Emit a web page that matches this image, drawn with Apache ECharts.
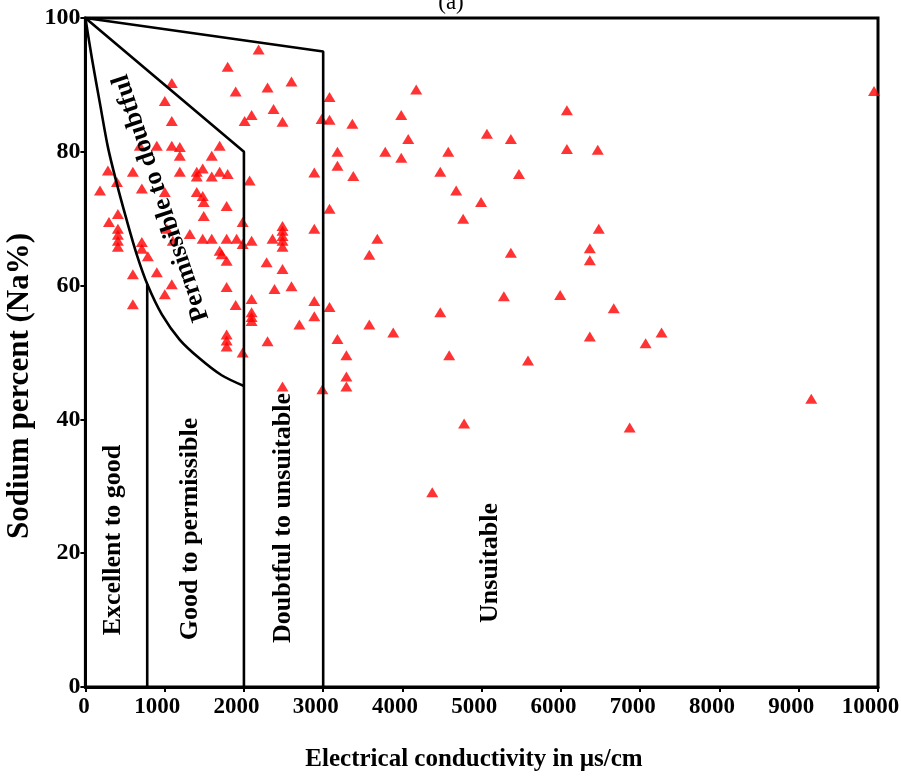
<!DOCTYPE html>
<html><head><meta charset="utf-8">
<script src="https://cdn.jsdelivr.net/npm/echarts@6/dist/echarts.min.js"></script>
<style>html,body{margin:0;padding:0;background:#fff}#c{width:901px;height:778px}</style>
</head><body><div id="c"></div>
<script>
// Sample values: electrical conductivity (µS/cm) and sodium percent (Na%)
const ecValues = [
  2185,1795,1896,2298,2600,2374,2097,2009,2487,1090,1002,1090,687,901,1090,1191,1191,1594,1694,
  284,599,1191,1405,1405,1480,1594,1694,1795,2072,398,184,712,1002,1405,1480,1493,1782,410,297,
  1493,1984,410,410,410,410,1027,1317,1480,1594,1782,1908,2097,1103,1984,2361,2487,2487,2487,2487,
  2487,712,712,788,1694,1720,1782,2286,599,901,2487,1090,1782,2386,2600,1002,2097,1896,599,2097,
  2097,2097,2298,1782,1782,1782,1984,2487,
  2700,2888,2888,2888,2888,2980,2990,3080,3080,3080,3080,3180,3180,3180,3293,3293,3293,3368,3380,
  3582,3582,3683,3783,3884,3985,3985,4073,4174,4376,4477,4477,4578,4590,4678,4766,4778,4992,5066,
  5280,5368,5368,5470,5584,5990,6075,6075,6364,6364,6364,6464,6477,6666,6867,7068,7269,9158,9950
];
const naValues = [
  95.3,92.7,89.0,89.6,90.5,86.4,85.5,84.6,84.5,90.3,87.6,84.6,80.9,80.9,80.9,80.7,79.4,79.4,80.9,
  77.2,77.0,77.0,77.0,76.3,77.5,76.3,77.0,76.7,75.7,75.5,74.2,74.5,74.0,74.0,73.4,72.5,71.9,70.7,69.5,
  70.4,69.5,68.5,67.6,66.7,65.8,68.5,67.7,67.0,67.0,67.0,67.0,66.7,66.7,66.2,67.0,68.9,68.2,67.4,66.7,
  65.8,66.5,65.5,64.4,65.2,64.7,63.7,63.5,61.7,62.0,62.5,60.2,59.8,59.5,59.9,58.7,58.0,57.1,57.2,56.0,
  55.3,54.7,51.7,52.7,51.8,50.9,50.0,44.9,
  54.2,76.9,68.5,57.7,55.4,84.9,44.5,88.2,84.8,71.5,56.8,80.0,77.9,52.0,49.6,46.4,44.9,84.2,76.4,
  64.6,54.2,67.0,80.0,53.0,85.5,79.1,81.9,89.3,29.1,77.0,56.0,80.0,49.6,74.2,70.0,39.4,72.5,82.7,
  58.4,81.9,64.9,76.7,48.8,58.6,86.2,80.4,65.6,63.8,52.4,80.3,68.5,56.6,38.8,51.4,53.0,43.1,89.1
];
// Classification boundaries (Wilcox-style diagram)
const curveEC = [0, 83, 184, 284, 397, 523, 649, 788, 964, 1191, 1442, 1719, 2000];
const curveNa = [100, 93.9, 87.2, 80.7, 75.2, 69.7, 64.6, 60.0, 55.7, 51.9, 49.1, 46.6, 45];
const goodEC = [780, 780];
const goodNa = [60.2, 0];
const permEC = [0, 2000, 2000];
const permNa = [100, 80, 0];
const doubtEC = [0, 3000, 3000];
const doubtNa = [100, 95, 0];

const xName = 'Electrical conductivity in µs/cm';
const yName = 'Sodium percent (Na%)';
const regionLabels = ['Excellent to good','Good to permissible','Doubtful to unsuitable','Unsuitable','Permissible to doubtful'];

const FF = '"Liberation Serif","Times New Roman",serif';
const zip = (a,b) => a.map((v,i)=>[v,b[i]]);
const lineSeries = (ec, na, smooth) => ({
  type:'line', data: zip(ec, na), symbol:'none', silent:true, z:3, smooth: smooth||false,
  lineStyle:{color:'#000', width:2.6}, animation:false
});
const txt = (text, x, y, size, rot, weight) => ({
  type:'text', x:x, y:y, rotation: rot||0, z:10,
  style:{text:text, font:(weight||'bold')+' '+size+'px '+FF, fill:'#000',
    align:'center', verticalAlign:'middle', textAlign:'center', textVerticalAlign:'middle'}
});
const tickFont = {color:'#000', fontFamily:FF, fontWeight:'bold', fontSize:23};

const chart = echarts.init(document.getElementById('c'), null, {renderer:'canvas'});
chart.setOption({
  animation:false,
  backgroundColor:'#fff',
  grid:{left:85.4, right:23, top:18, bottom:91, show:true, borderColor:'#000', borderWidth:3,
        containLabel:false, outerBoundsMode:'none'},
  xAxis:{
    type:'value', min:0, max:10000, interval:1000,
    axisLine:{show:true, lineStyle:{color:'#000', width:3}},
    axisTick:{show:true, length:5, lineStyle:{color:'#000', width:2}},
    axisLabel:Object.assign({}, tickFont, {margin:9,
      formatter: v => v === 0 ? '{z|0}' : '{n|' + v + '}',
      rich:{
        z:Object.assign({}, tickFont, {padding:[0,3,0,0]}),
        n:Object.assign({}, tickFont, {padding:[0,15,0,0]})
      }}),
    splitLine:{show:false}
  },
  yAxis:{
    type:'value', min:0, max:100, interval:20,
    axisLine:{show:true, lineStyle:{color:'#000', width:3}},
    axisTick:{show:true, length:5, lineStyle:{color:'#000', width:2}},
    axisLabel:{color:'#000', fontFamily:FF, fontWeight:'bold', fontSize:24, margin:5,
               formatter: v => String(v)},
    splitLine:{show:false}
  },
  series:[
    {type:'scatter', data: zip(ecValues, naValues), symbol:'triangle', symbolSize:[12,10],
     itemStyle:{color:'#ff0000'}, z:2},
    lineSeries(curveEC, curveNa, 0.3),
    lineSeries(goodEC, goodNa),
    lineSeries(permEC, permNa),
    lineSeries(doubtEC, doubtNa)
  ],
  graphic:[
    txt('(a)', 451, 3, 23, 0, 'normal'),
    txt(xName, 474, 760, 25),
    txt(yName, 20, 386, 31, Math.PI/2),
    txt(regionLabels[0], 113, 540, 26, Math.PI/2),
    txt(regionLabels[1], 190, 529, 26, Math.PI/2),
    txt(regionLabels[2], 283, 518, 26, Math.PI/2),
    txt(regionLabels[3], 490, 563, 26, Math.PI/2),
    txt(regionLabels[4], 161, 198, 26, 108.5*Math.PI/180)
  ]
});
</script>
</body></html>
